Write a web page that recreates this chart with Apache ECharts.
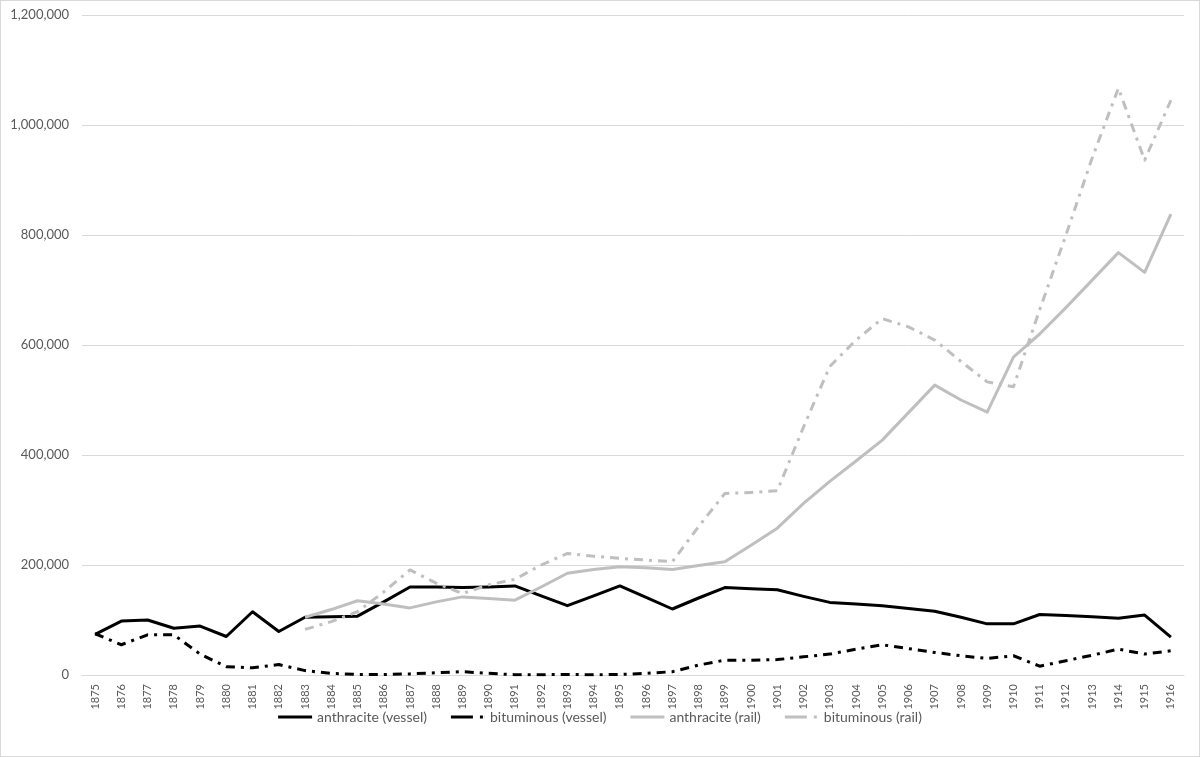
<!DOCTYPE html>
<html>
<head>
<meta charset="utf-8">
<script src="https://cdn.jsdelivr.net/npm/echarts@6/dist/echarts.min.js"></script>
<style>
html,body{margin:0;padding:0;background:#fff;}
#c{width:1200px;height:757px;box-sizing:border-box;border:1px solid #d9d9d9;}
</style>
</head>
<body>
<div id="c"></div>
<script>
const years = [];
for (let y = 1875; y <= 1916; y++) years.push(String(y));

const anthraciteVessel = [74000, 98000, 100000, 85000, 89000, 70000, 115000, 79000, 105000, 106000,
  107000, 133000, 160000, 160000, 159000, 160000, 162000, 144000, 126000, 144000,
  162000, 141000, 120000, 140000, 159000, 157000, 155000, 143000, 132000, 129000,
  126000, 121000, 116000, 105000, 93000, 93000, 110000, 108000, 106000, 103000,
  109000, 69000];

const bituminousVessel = [75000, 55000, 73000, 73000, 38000, 15000, 13000, 19000, 8000, 3000,
  1000, 1000, 2000, 4000, 6000, 3000, 500, 500, 1000, 500,
  1000, 3000, 6000, 18000, 27000, 27000, 28000, 33000, 38000, 47000,
  55000, 48000, 41000, 35000, 30000, 35000, 16000, 26000, 36000, 47000,
  38000, 44000];

const anthraciteRail = [null, null, null, null, null, null, null, null, 105000, 119000,
  135000, 129000, 122000, 133000, 142000, 139000, 136000, 160000, 185000, 192000,
  197000, 195000, 192000, 199000, 206000, 236000, 267000, 312000, 352000, 389000,
  427000, 477000, 527000, 500000, 478000, 578000, 620000, 668000, 718000, 768000,
  732000, 838000];

const bituminousRail = [null, null, null, null, null, null, null, null, 83000, 97000,
  115000, 151000, 191000, 167000, 148000, 164000, 174000, 200000, 221000, 216000,
  212000, 209000, 206000, 270000, 330000, 332000, 335000, 451000, 561000, 609000,
  648000, 633000, 609000, 570000, 533000, 524000, 664000, 800000, 940000, 1067000,
  936000, 1045000];

const seriesNames = ['anthracite (vessel)', 'bituminous (vessel)', 'anthracite (rail)', 'bituminous (rail)'];

const dashDot = [9, 6, 3, 6];
const FONT = 'Lato, "Open Sans", sans-serif';
const ICON_SOLID = 'path://M0,0H34V3H0Z';
const ICON_DASHDOT = 'path://M0,0H22V3H0Z M29,0H32V3H29Z M33.9,0H34V3H33.9Z';

const chart = echarts.init(document.getElementById('c'), null, {renderer: 'canvas'});
function mk(name, data, color, type) {
  return {
    name: name, type: 'line', data: data, symbol: 'none', connectNulls: false,
    lineStyle: {color: color, width: 3, type: type, cap: 'butt', join: 'round'},
    itemStyle: {color: color},
    emphasis: {disabled: true},
    animation: false
  };
}
chart.setOption({
  animation: false,
  textStyle: {fontFamily: FONT},
  grid: {left: 81, right: 15, top: 14, bottom: 81, containLabel: false},
  legend: {
    top: 704, left: 'center', itemWidth: 34, itemHeight: 3, itemGap: 24,
    textStyle: {color: '#595959', fontSize: 14, fontFamily: FONT},
    data: [
      {name: seriesNames[0], icon: ICON_SOLID, itemStyle: {color: '#000000'}},
      {name: seriesNames[1], icon: ICON_DASHDOT, itemStyle: {color: '#000000'}},
      {name: seriesNames[2], icon: ICON_SOLID, itemStyle: {color: '#bfbfbf'}},
      {name: seriesNames[3], icon: ICON_DASHDOT, itemStyle: {color: '#bfbfbf'}}
    ]
  },
  xAxis: {
    type: 'category', data: years, boundaryGap: true,
    axisLine: {show: true, lineStyle: {color: '#d9d9d9', width: 1}},
    axisTick: {show: false},
    axisLabel: {rotate: 90, interval: 0, color: '#595959', fontSize: 11, margin: 9, fontFamily: FONT}
  },
  yAxis: {
    type: 'value', min: 0, max: 1200000, interval: 200000,
    axisLine: {show: false}, axisTick: {show: false},
    splitLine: {lineStyle: {color: '#d9d9d9', width: 1}},
    axisLabel: {color: '#595959', fontSize: 13, margin: 13, fontFamily: FONT,
      formatter: v => v.toLocaleString('en-US')}
  },
  series: [
    mk(seriesNames[0], anthraciteVessel, '#000000', 'solid'),
    mk(seriesNames[1], bituminousVessel, '#000000', dashDot),
    mk(seriesNames[2], anthraciteRail, '#bfbfbf', 'solid'),
    mk(seriesNames[3], bituminousRail, '#bfbfbf', dashDot)
  ]
});
</script>
</body>
</html>
